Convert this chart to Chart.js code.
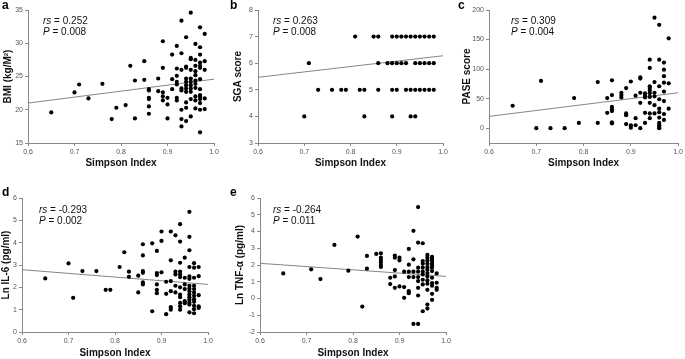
<!DOCTYPE html>
<html>
<head>
<meta charset="utf-8">
<script src="https://cdn.jsdelivr.net/npm/chart.js@4.4.1/dist/chart.umd.min.js"></script>
<style>
  body { margin: 0; background: #fff; }
  .panel { position: absolute; }
</style>
</head>
<body>
<div class="panel" style="left:0;top:0"><canvas id="chartA" width="228" height="178"></canvas></div>
<div class="panel" style="left:228px;top:0"><canvas id="chartB" width="228" height="178"></canvas></div>
<div class="panel" style="left:456px;top:0"><canvas id="chartC" width="229" height="178"></canvas></div>
<div class="panel" style="left:0;top:178px"><canvas id="chartD" width="228" height="181"></canvas></div>
<div class="panel" style="left:228px;top:178px"><canvas id="chartE" width="228" height="181"></canvas></div>
<script>
// x = Simpson index, y = outcome
const simpsonTicks = [0.6, 0.7, 0.8, 0.9, 1.0];

const bmiPoints = [
  [0.65,19.6],[0.70,22.6],[0.71,23.8],[0.73,21.7],[0.76,23.9],[0.78,18.6],[0.79,20.3],[0.81,20.7],[0.82,26.6],[0.83,18.7],[0.83,24.4],[0.85,27.3],[0.85,24.5],
  [0.86,23.1],[0.86,22.9],[0.86,21.8],[0.86,21.6],[0.86,20.5],[0.86,19.4],
  [0.88,24.7],[0.88,22.8],
  [0.89,30.3],[0.89,26.3],[0.89,22.6],[0.89,22.0],[0.89,21.4],
  [0.90,18.7],[0.90,21.8],[0.90,20.8],
  [0.91,28.3],[0.91,24.6],[0.91,23.1],
  [0.92,29.6],[0.92,26.2],[0.92,25.1],[0.92,24.2],[0.92,23.8],[0.92,21.8],[0.92,21.4],
  [0.93,33.4],[0.93,28.5],[0.93,26.0],[0.93,23.2],[0.93,22.9],[0.93,20.0],[0.93,18.6],[0.93,17.5],
  [0.94,30.9],[0.94,26.5],[0.94,26.3],[0.94,24.7],[0.94,24.2],[0.94,23.7],[0.94,23.2],[0.94,22.7],[0.94,21.1],[0.94,20.3],[0.94,18.3],
  [0.95,34.6],[0.95,27.8],[0.95,27.6],[0.95,26.0],[0.95,24.7],[0.95,24.2],[0.95,23.7],[0.95,23.2],[0.95,22.7],[0.95,21.6],[0.95,19.0],
  [0.96,29.9],[0.96,27.5],[0.96,26.6],[0.96,25.8],[0.96,25.2],[0.96,24.4],[0.96,23.9],[0.96,23.3],[0.96,22.0],[0.96,21.4],[0.96,20.2],
  [0.97,32.4],[0.97,29.4],[0.97,28.3],[0.97,27.1],[0.97,26.6],[0.97,26.3],[0.97,24.6],[0.97,23.1],[0.97,22.2],[0.97,22.0],[0.97,21.6],[0.97,21.0],[0.97,20.0],[0.97,16.6],
  [0.98,31.4],[0.98,27.3],[0.98,26.0],[0.98,21.7],[0.98,20.1]
];

const sgaPoints = [
  [0.81,7],[0.85,7],[0.86,7],[0.89,7],[0.90,7],[0.91,7],[0.92,7],[0.93,7],[0.94,7],[0.95,7],[0.96,7],[0.97,7],[0.98,7],
  [0.71,6],[0.86,6],[0.88,6],[0.89,6],[0.90,6],[0.91,6],[0.92,6],[0.94,6],[0.95,6],[0.96,6],[0.97,6],[0.98,6],
  [0.73,5],[0.76,5],[0.78,5],[0.79,5],[0.82,5],[0.83,5],[0.86,5],[0.89,5],[0.90,5],[0.92,5],[0.93,5],[0.94,5],[0.95,5],[0.96,5],[0.97,5],[0.98,5],
  [0.70,4],[0.83,4],[0.89,4],[0.93,4],[0.94,4]
];

const pasePoints = [
  [0.65,38],[0.70,0],[0.71,80],[0.73,0],[0.76,0],[0.78,51],[0.79,9],[0.83,78],[0.83,9],[0.85,51],[0.85,26],
  [0.86,81],[0.86,56],[0.86,36],[0.86,32],[0.86,29],[0.86,10],[0.86,8],
  [0.88,60],[0.88,56],[0.88,52],
  [0.89,68],[0.89,25],[0.89,22],[0.89,7],
  [0.90,79],[0.90,5],[0.90,1],
  [0.91,55],[0.91,17],[0.91,5],
  [0.92,86],[0.92,84],[0.92,60],[0.92,43],[0.92,0],
  [0.93,59],[0.93,55],[0.93,52],[0.93,26],[0.93,9],
  [0.94,116],[0.94,102],[0.94,71],[0.94,68],[0.94,64],[0.94,59],[0.94,53],[0.94,43],[0.94,25],[0.94,17],
  [0.95,187],[0.95,78],[0.95,60],[0.95,54],[0.95,39],[0.95,25],
  [0.96,175],[0.96,116],[0.96,71],[0.96,49],[0.96,33],[0.96,27],[0.96,18],[0.96,9],[0.96,5],[0.96,2],[0.96,0],
  [0.97,111],[0.97,99],[0.97,88],[0.97,77],[0.97,62],[0.97,46],[0.97,24],[0.97,14],
  [0.98,152],[0.98,76],[0.98,33]
];

const il6Points = [
  [0.65,2.40],[0.70,3.07],[0.71,1.53],[0.73,2.73],[0.76,2.73],[0.78,1.89],[0.79,1.89],[0.81,2.91],[0.82,3.57],[0.83,2.70],[0.83,2.47],[0.85,2.52],[0.85,1.77],
  [0.86,3.93],[0.86,3.43],[0.86,2.73],[0.86,2.65],[0.86,2.22],[0.86,2.13],
  [0.88,3.97],[0.88,0.93],
  [0.89,3.63],[0.89,2.64],[0.89,2.55],[0.89,2.13],[0.89,1.89],[0.89,1.74],
  [0.90,4.50],[0.90,4.08],[0.90,2.67],
  [0.91,2.25],[0.91,1.71],[0.91,0.80],
  [0.92,4.50],[0.92,3.21],[0.92,2.28],[0.92,1.83],[0.92,1.11],[0.92,1.00],
  [0.93,4.33],[0.93,2.70],[0.93,2.58],[0.93,2.07],[0.93,1.77],
  [0.94,4.83],[0.94,4.05],[0.94,3.10],[0.94,2.71],[0.94,2.58],[0.94,2.46],[0.94,2.00],[0.94,1.68],[0.94,1.56],[0.94,1.30],[0.94,1.15],[0.94,1.00],
  [0.95,3.33],[0.95,2.43],[0.95,2.13],[0.95,1.92],[0.95,1.38],[0.95,1.29],
  [0.96,5.38],[0.96,4.26],[0.96,3.66],[0.96,2.91],[0.96,2.49],[0.96,2.38],[0.96,2.07],[0.96,1.95],[0.96,1.83],[0.96,1.68],[0.96,1.56],[0.96,1.44],[0.96,1.32],[0.96,1.23],[0.96,0.88],
  [0.97,3.08],[0.97,2.88],[0.97,2.43],[0.97,2.07],[0.97,1.92],[0.97,1.77],[0.97,1.62],[0.97,1.47],[0.97,1.35],[0.97,1.17],[0.97,1.02],[0.97,0.84],
  [0.98,2.91],[0.98,2.50],[0.98,1.65],[0.98,1.15],[0.98,1.08]
];

const tnfPoints = [
  [0.65,1.50],[0.71,1.74],[0.73,1.16],[0.76,3.20],[0.79,1.66],[0.81,3.70],[0.82,-0.48],[0.83,2.54],[0.83,1.78],[0.85,2.66],
  [0.86,2.70],[0.86,2.44],[0.86,2.30],[0.86,2.16],[0.86,2.00],[0.86,1.88],
  [0.88,1.24],[0.88,0.86],
  [0.89,2.56],[0.89,2.44],[0.89,1.70],[0.89,1.32],[0.89,0.64],
  [0.90,2.44],[0.90,2.28],[0.90,0.72],
  [0.91,1.60],[0.91,0.68],[0.91,0.04],
  [0.92,2.96],[0.92,2.02],[0.92,1.60],[0.92,1.28],[0.92,0.44],[0.92,0.32],
  [0.93,4.04],[0.93,2.34],[0.93,1.60],[0.93,1.28],[0.93,-1.52],
  [0.94,5.46],[0.94,3.34],[0.94,1.84],[0.94,1.60],[0.94,1.28],[0.94,1.04],[0.94,0.64],[0.94,0.18],[0.94,-1.52],
  [0.95,3.30],[0.95,2.24],[0.95,2.08],[0.95,1.84],[0.95,1.60],[0.95,1.44],[0.95,1.12],[0.95,0.84],[0.95,-0.76],
  [0.96,2.60],[0.96,2.44],[0.96,2.28],[0.96,2.08],[0.96,1.88],[0.96,1.72],[0.96,1.52],[0.96,1.32],[0.96,1.08],[0.96,0.88],[0.96,0.52],[0.96,-0.36],[0.96,-0.60],
  [0.97,2.48],[0.97,2.36],[0.97,2.24],[0.97,2.08],[0.97,1.96],[0.97,1.84],[0.97,1.64],[0.97,1.24],[0.97,0.92],[0.97,0.76],[0.97,0.28],[0.97,-0.08],
  [0.98,1.50],[0.98,0.94],[0.98,0.64],[0.98,0.52]
];

// fitted line values at x = 0.6 and x = 1.0
const bmiFit = [21.0, 24.6];
const sgaFit = [5.47, 6.28];
const paseFit = [20, 60];
const il6Fit = [2.79, 2.13];
const tnfFit = [2.1, 1.32];

const bmiTicks = [15, 20, 25, 30, 35];
const sgaTicks = [3, 4, 5, 6, 7, 8];
const paseTicks = [0, 50, 100, 150, 200];
const il6Ticks = [0, 1, 2, 3, 4, 5, 6];
const tnfTicks = [-2, -1, 0, 1, 2, 3, 4, 5, 6];

const panelLetters = ['a', 'b', 'c', 'd', 'e'];
const rsLabels = ['0.252', '0.263', '0.309', '-0.293', '-0.264'];
const pLabels = ['0.008', '0.008', '0.004', '0.002', '0.011'];

const FONT = '"Liberation Sans", Arial, sans-serif';

const notePlugin = {
  id: 'notes',
  afterDraw(chart) {
    const o = chart.options.plugins.notes;
    const ctx = chart.ctx;
    const area = chart.chartArea;
    ctx.save();
    ctx.fillStyle = '#000';
    ctx.textBaseline = 'alphabetic';
    ctx.font = 'bold 12px ' + FONT;
    ctx.fillText(o.letter, 2, o.letterY);

    ctx.fillStyle = '#111';
    ctx.textBaseline = 'middle';
    const x = area.left + o.dx;
    const y1 = area.top + o.dy;
    const y2 = y1 + 11;
    ctx.font = 'italic 10px ' + FONT;
    ctx.fillText('rs', x, y1);
    let w = ctx.measureText('rs').width;
    ctx.font = '10px ' + FONT;
    ctx.fillText(' = ' + o.rs, x + w, y1);
    ctx.font = 'italic 10px ' + FONT;
    ctx.fillText('P', x, y2);
    w = ctx.measureText('P').width;
    ctx.font = '10px ' + FONT;
    ctx.fillText(' = ' + o.p, x + w, y2);
    ctx.restore();
  }
};

function makePanel(id, p) {
  const canvas = document.getElementById(id);
  const W = canvas.width, H = canvas.height;
  const axisColor = '#8a8a8a';
  return new Chart(canvas, {
    type: 'scatter',
    data: {
      datasets: [{
        data: p.points.map(d => ({ x: d[0], y: d[1] })),
        backgroundColor: '#000',
        borderColor: '#000',
        pointRadius: 2.1,
        pointBorderWidth: 0
      }, {
        data: [{ x: 0.6, y: p.fit[0] }, { x: 1.0, y: p.fit[1] }],
        showLine: true,
        borderColor: '#777',
        borderWidth: 0.9,
        pointRadius: 0
      }]
    },
    options: {
      responsive: false,
      animation: false,
      events: [],
      layout: { padding: { left: 0, top: p.area.top, right: W - p.area.right, bottom: 0 } },
      plugins: {
        legend: { display: false },
        tooltip: { enabled: false },
        notes: { letter: p.letter, letterY: p.letterY, rs: p.rs, p: p.p, dx: p.noteX, dy: p.noteY }
      },
      scales: {
        x: {
          type: 'linear',
          min: 0.6, max: 1.0,
          afterBuildTicks: axis => { axis.ticks = simpsonTicks.map(v => ({ value: v })); },
          afterFit: s => { s.height = H - p.area.bottom; },
          ticks: { callback: v => v.toFixed(1), font: { family: FONT, size: 7 }, color: '#555', padding: 2, maxRotation: 0 },
          grid: { drawOnChartArea: false, drawTicks: true, tickLength: 3, color: axisColor },
          border: { color: axisColor },
          title: { display: true, text: 'Simpson Index', font: { family: FONT, size: 10, weight: 'bold' }, color: '#111', padding: { top: 0, bottom: p.xTitlePad } }
        },
        y: {
          min: p.yMin, max: p.yMax,
          afterBuildTicks: axis => { axis.ticks = p.yTicks.map(v => ({ value: v })); },
          afterFit: s => { s.width = p.area.left; },
          ticks: { font: { family: FONT, size: 7 }, color: '#555', padding: 2 },
          grid: { drawOnChartArea: false, drawTicks: true, tickLength: 3, color: axisColor },
          border: { color: axisColor },
          title: { display: true, text: p.yTitle, font: { family: FONT, size: 10, weight: 'bold' }, color: '#111', padding: { top: p.yTitlePad, bottom: 0 } }
        }
      }
    },
    plugins: [notePlugin]
  });
}

makePanel('chartA', {
  points: bmiPoints, fit: bmiFit, yMin: 15, yMax: 35, yTicks: bmiTicks, yTitle: 'BMI (kg/M²)',
  area: { left: 28, right: 214, top: 10, bottom: 143 }, yTitlePad: 2, xTitlePad: 9,
  letter: panelLetters[0], letterY: 9, rs: rsLabels[0], p: pLabels[0], noteX: 15, noteY: 11
});
makePanel('chartB', {
  points: sgaPoints, fit: sgaFit, yMin: 3, yMax: 8, yTicks: sgaTicks, yTitle: 'SGA score',
  area: { left: 30, right: 215, top: 10, bottom: 143 }, yTitlePad: 4, xTitlePad: 9,
  letter: panelLetters[1], letterY: 9, rs: rsLabels[1], p: pLabels[1], noteX: 15, noteY: 11
});
makePanel('chartC', {
  points: pasePoints, fit: paseFit, yMin: -25, yMax: 200, yTicks: paseTicks, yTitle: 'PASE score',
  area: { left: 33, right: 224, top: 10, bottom: 143 }, yTitlePad: 5, xTitlePad: 9,
  letter: panelLetters[2], letterY: 9, rs: rsLabels[2], p: pLabels[2], noteX: 22, noteY: 11
});
makePanel('chartD', {
  points: il6Points, fit: il6Fit, yMin: 0, yMax: 6, yTicks: il6Ticks, yTitle: 'Ln IL-6 (pg/ml)',
  area: { left: 22, right: 208, top: 20, bottom: 154 }, yTitlePad: 0, xTitlePad: 0,
  letter: panelLetters[3], letterY: 18, rs: rsLabels[3], p: pLabels[3], noteX: 17, noteY: 12
});
makePanel('chartE', {
  points: tnfPoints, fit: tnfFit, yMin: -2, yMax: 6, yTicks: tnfTicks, yTitle: 'Ln TNF-α (pg/ml)',
  area: { left: 32, right: 218, top: 20, bottom: 154 }, yTitlePad: 6, xTitlePad: 0,
  letter: panelLetters[4], letterY: 18, rs: rsLabels[4], p: pLabels[4], noteX: 13, noteY: 12
});
</script>
</body>
</html>
